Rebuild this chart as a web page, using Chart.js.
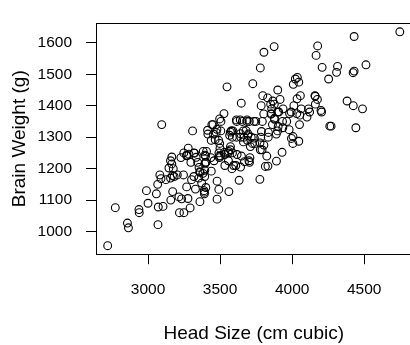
<!DOCTYPE html>
<html>
<head>
<meta charset="utf-8">
<script src="https://cdn.jsdelivr.net/npm/chart.js@4/dist/chart.umd.min.js"></script>
<style>
html,body{margin:0;padding:0;background:#fff;overflow:hidden;}
#wrap{width:410px;height:345px;overflow:hidden;position:relative;}
canvas{display:block;}
</style>
</head>
<body>
<div id="wrap"><canvas id="c" width="420" height="345"></canvas></div>
<script>
// Head size (cm^3) and brain weight (g)
const headSizeMale = [4512,3738,4261,3777,4177,3585,3785,3559,3613,3982,3443,3993,3640,4208,3832,3876,3497,3466,3095,4424,3878,4046,3804,3710,4747,4423,4036,4022,3454,4175,3787,3796,4103,4161,4158,3814,3527,3748,3334,3492,3962,3505,4315,3804,3863,4034,4308,3165,3641,3644,3891,3793,4270,4063,4012,3458,3890,
4166,3935,3669,3866,3393,4442,4253,3727,3329,3415,3372,4430,4381,4008,3858,4121,4057,3824,3394,3558,3362,3930,3835,3830,3856,3249,3577,3933,3875,3309,3406,3506,3907,4160,3318,3662,3899,3700,3779,3473,3490,3654,3478,3495,3834,3876,3661,3618,3648,4032,3399,3916,4430,3695,3491,3571,3594,3383,3499,3589,3900,4114,3937,3399,4200,4488,3614,4051,3782,3391,3124,4053,3582,3666,3532,4046,3776];
const brainWeightMale = [1530,1297,1335,1282,1590,1300,1400,1255,1355,1375,1340,1380,1355,1522,1208,1405,1358,1292,1340,1400,1357,1287,1275,1270,1635,1505,1490,1485,1310,1420,1318,1432,1364,1405,1432,1207,1375,1350,1236,1250,1350,1320,1525,1570,1340,1422,1506,1215,1311,1300,1224,1350,1335,1390,1400,1225,1310,
1560,1330,1222,1415,1175,1330,1485,1470,1135,1310,1154,1510,1415,1468,1390,1380,1432,1240,1195,1225,1188,1252,1315,1425,1375,1060,1320,1350,1588,1320,1255,1350,1380,1430,1250,1285,1320,1225,1260,1315,1290,1350,1325,1235,1300,1360,1320,1245,1240,1375,1240,1420,1620,1310,1134,1260,1210,1255,1265,1320,1450,1390,1390,1220,1385,1390,1300,1340,1300,1125,1165,1370,1200,1300,1245,1475,1166];
const headSizeFemale = [2857,3436,3791,3302,3104,3171,3572,3530,3175,3438,3903,3899,3401,3267,3451,3090,3413,3323,3680,3439,3853,3156,3279,3707,4006,3269,3071,3779,3548,3292,3497,3082,3248,3358,3803,3566,3145,3503,3571,3724,3615,3203,3609,3561,3979,3533,3689,3158,4005,3181,3479,3642,3632,
3069,3394,3703,3165,3354,3000,3687,3556,2773,3058,3344,3493,3297,3360,3228,3277,3851,3067,3692,3402,3995,3318,2720,2937,3580,2939,2989,3586,3156,3246,3170,3268,3389,3381,2864,3740,3479,3647,3716,3284,4204,3735,3218,3685,3704,3214,3394,3233,3352,3391];
const brainWeightFemale = [1027,1235,1260,1165,1080,1127,1270,1252,1200,1290,1334,1380,1140,1243,1340,1168,1322,1249,1321,1192,1373,1170,1265,1235,1302,1241,1078,1520,1460,1075,1280,1180,1250,1190,1374,1306,1202,1240,1316,1280,1350,1180,1210,1127,1324,1210,1290,1100,1280,1175,1160,1205,1163,
1022,1243,1350,1237,1204,1090,1355,1250,1076,1120,1220,1240,1220,1095,1235,1105,1405,1150,1305,1220,1296,1175,955,1070,1320,1060,1130,1250,1225,1180,1178,1142,1130,1185,1012,1280,1103,1408,1300,1246,1380,1350,1060,1350,1220,1110,1215,1104,1170,1120];
const xTicks = [3000,3500,4000,4500];
const yTicks = [1000,1100,1200,1300,1400,1500,1600];
const xLabel = 'Head Size (cm cubic)';
const yLabel = 'Brain Weight (g)';

const toPts = (xs, ys) => xs.map((x, i) => ({x: x, y: ys[i]}));
const FONT = "'Liberation Sans', Arial, Helvetica, sans-serif";

const boxPlugin = {
  id: 'box',
  afterDraw(chart) {
    const {ctx, chartArea: a} = chart;
    ctx.save();
    ctx.strokeStyle = '#000';
    ctx.lineWidth = 1;
    ctx.strokeRect(Math.round(a.left) + 0.5, Math.round(a.top) + 0.5, Math.round(a.right - a.left), Math.round(a.bottom - a.top));
    ctx.restore();
  }
};

const pointStyle = {
  showLine: false,
  pointStyle: 'circle',
  pointRadius: 3.9,
  pointBorderWidth: 1.1,
  pointBorderColor: '#000',
  pointBackgroundColor: 'rgba(0,0,0,0)',
  pointHoverRadius: 3.9
};

new Chart(document.getElementById('c'), {
  type: 'scatter',
  data: {
    datasets: [
      Object.assign({label: 'Male', data: toPts(headSizeMale, brainWeightMale)}, pointStyle),
      Object.assign({label: 'Female', data: toPts(headSizeFemale, brainWeightFemale)}, pointStyle)
    ]
  },
  options: {
    responsive: false,
    animation: false,
    events: [],
    layout: {padding: {left: 0, right: 8.5, top: 7.5, bottom: 0}},
    plugins: {legend: {display: false}, tooltip: {enabled: false}},
    scales: {
      x: {
        type: 'linear',
        min: 2639, max: 4828,
        afterBuildTicks: s => { s.ticks = xTicks.map(v => ({value: v})); },
        afterFit: s => { s.height = 90.8; },
        grid: {drawOnChartArea: false, drawTicks: true, tickLength: 10, color: '#000', lineWidth: 1},
        border: {display: false},
        ticks: {color: '#000', font: {family: FONT, size: 15.5}, padding: 16, maxRotation: 0, autoSkip: false, callback: v => String(v)},
        title: {display: true, text: xLabel, color: '#000', font: {family: FONT, size: 19}, padding: {top: 0, bottom: 0}}
      },
      y: {
        type: 'linear',
        min: 928, max: 1662,
        afterBuildTicks: s => { s.ticks = yTicks.map(v => ({value: v})); },
        afterFit: s => { s.width = 96; },
        grid: {drawOnChartArea: false, drawTicks: true, tickLength: 10, color: '#000', lineWidth: 1},
        border: {display: false},
        ticks: {color: '#000', font: {family: FONT, size: 15.5}, padding: 14, autoSkip: false, callback: v => String(v)},
        title: {display: true, text: yLabel, color: '#000', font: {family: FONT, size: 19}, padding: {top: 8, bottom: 0}}
      }
    }
  },
  plugins: [boxPlugin]
});
</script>
</body>
</html>
